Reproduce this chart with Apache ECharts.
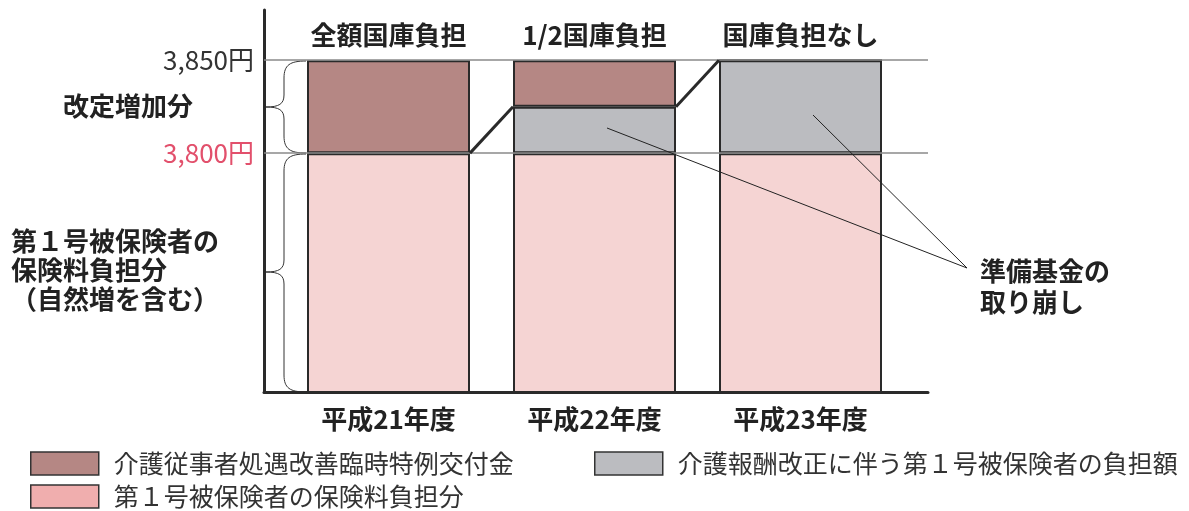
<!DOCTYPE html>
<html>
<head>
<meta charset="utf-8">
<script src="https://cdn.jsdelivr.net/npm/echarts@6/dist/echarts.min.js"></script>
<style>
  html, body { margin: 0; padding: 0; background: #fff; }
  #chart { width: 1189px; height: 511px; }
</style>
</head>
<body>
<div id="chart"></div>
<script>
// 年度と財源区分
const categories = ['平成21年度', '平成22年度', '平成23年度']
const fundingLabels = ['全額国庫負担', '1/2国庫負担', '国庫負担なし']
// 各年度の内訳（円）
const premiumShare = [3800, 3800, 3800]   // 第１号被保険者の保険料負担分
const revisionShare = [0, 25, 50]         // 介護報酬改正に伴う負担額
const grantShare = [50, 25, 0]            // 介護従事者処遇改善臨時特例交付金
const yTickValues = [3800, 3850]

const NAME_GRANT = '介護従事者処遇改善臨時特例交付金'
const NAME_REVISION = '介護報酬改正に伴う第１号被保険者の負担額'
const NAME_PREMIUM = '第１号被保険者の保険料負担分'

const FONT = '"Noto Sans CJK JP", "Noto Sans", sans-serif'
const Y_MIN = 3671.5
const Y_MAX = 3877
const BAR_W = 163
const EDGE = '#2a2a2a'

let myChart = echarts.init(document.getElementById('chart'))

// 年度間をつなぐ斜線（保険料＋改正負担の水準）
let levels = premiumShare.map((v, i) => v + revisionShare[i])
let stepData = []
for (let i = 0; i < levels.length - 1; i++) {
    stepData.push([i, levels[i], levels[i + 1]])
}

function legendBox (left, top, name, color) {
    let item = { name: name, icon: 'rect' }
    if (color) item.itemStyle = { color: color, borderColor: '#333', borderWidth: 1.5 }
    return {
        left: left,
        top: top,
        padding: 0,
        orient: 'horizontal',
        selectedMode: false,
        itemWidth: 68,
        itemHeight: 23,
        itemStyle: { borderColor: '#333', borderWidth: 1.5 },
        textStyle: { fontFamily: FONT, fontSize: 25, color: '#333', padding: [0, 0, 0, 10] },
        data: [item]
    }
}

// 波かっこ（右端x=306、先端x=266）
function brace (yTop, yTip, yBot) {
    let st = { stroke: '#333', lineWidth: 1, fill: 'none' }
    let xr = 306, xm = 284, xt = 266
    let seg = (x1, y1, cx1, cy1, cx2, cy2, x2, y2) => ({
        type: 'bezierCurve', silent: true,
        shape: { x1: x1, y1: y1, cpx1: cx1, cpy1: cy1, cpx2: cx2, cpy2: cy2, x2: x2, y2: y2 },
        style: st
    })
    let ln = (y1, y2) => ({ type: 'line', silent: true, shape: { x1: xm, y1: y1, x2: xm, y2: y2 }, style: st })
    return {
        type: 'group',
        children: [
            seg(xr, yTop, 290, yTop, xm, yTop + 4, xm, yTop + 17),
            ln(yTop + 17, yTip - 12),
            seg(xm, yTip - 12, xm, yTip - 3, 279, yTip, xt, yTip),
            seg(xt, yTip, 279, yTip, xm, yTip + 3, xm, yTip + 12),
            ln(yTip + 12, yBot - 17),
            seg(xm, yBot - 17, xm, yBot - 4, 290, yBot, xr, yBot)
        ]
    }
}

let barStyle = { borderColor: EDGE, borderWidth: 2 }

myChart.setOption({
    animation: false,
    textStyle: { fontFamily: FONT },
    legend: [
        legendBox(30, 451, NAME_GRANT),
        legendBox(594, 451, NAME_REVISION),
        legendBox(30, 484, NAME_PREMIUM, '#f0aeae')
    ],
    grid: [
        // 軸線と目盛線用
        { left: 264, right: 261, top: 10, bottom: 119 },
        // 棒グラフ用
        { left: 285.5, right: 285.5, top: 10, bottom: 119 }
    ],
    xAxis: [
        {
            gridIndex: 0, type: 'value', min: 0, max: 1,
            axisLine: { show: true, lineStyle: { color: '#2a2a2a', width: 3 } },
            axisTick: { show: false }, axisLabel: { show: false }, splitLine: { show: false }
        },
        {
            gridIndex: 1, type: 'category', data: categories, position: 'bottom',
            axisLine: { show: false }, axisTick: { show: false },
            axisLabel: { fontSize: 26, fontWeight: 'bold', color: '#222', margin: 14 }
        },
        {
            gridIndex: 1, type: 'category', data: fundingLabels, position: 'top', offset: -40,
            axisLine: { show: false }, axisTick: { show: false },
            axisLabel: { fontSize: 26, fontWeight: 'bold', color: '#222', margin: 2 }
        }
    ],
    yAxis: [
        {
            gridIndex: 0, type: 'value', min: Y_MIN, max: Y_MAX,
            axisLine: { show: true, lineStyle: { color: '#2a2a2a', width: 3 } },
            axisTick: { show: false },
            splitLine: { show: false },
            axisLabel: {
                customValues: yTickValues,
                fontSize: 26,
                margin: 10,
                color: function (value) {
                    return Number(value) === 3800 ? '#e2506c' : '#333'
                },
                formatter: function (value) {
                    return Number(value).toLocaleString('en-US') + '円'
                }
            }
        },
        { gridIndex: 1, type: 'value', min: Y_MIN, max: Y_MAX, show: false }
    ],
    series: [
        {
            // 3,800円・3,850円の水平線
            type: 'line', xAxisIndex: 0, yAxisIndex: 0, data: [], z: 1, silent: true,
            markLine: {
                symbol: 'none', silent: true, label: { show: false },
                lineStyle: { color: '#8a8a8a', width: 1.5, type: 'solid' },
                data: yTickValues.map(v => ({ yAxis: v }))
            }
        },
        {
            name: NAME_PREMIUM, type: 'bar', stack: 'total', xAxisIndex: 1, yAxisIndex: 1,
            barWidth: BAR_W, clip: true,
            itemStyle: Object.assign({ color: '#f5d4d3' }, barStyle),
            data: premiumShare
        },
        {
            name: NAME_REVISION, type: 'bar', stack: 'total', xAxisIndex: 1, yAxisIndex: 1,
            barWidth: BAR_W,
            itemStyle: Object.assign({ color: '#bbbcc0' }, barStyle),
            data: revisionShare
        },
        {
            name: NAME_GRANT, type: 'bar', stack: 'total', xAxisIndex: 1, yAxisIndex: 1,
            barWidth: BAR_W,
            itemStyle: Object.assign({ color: '#b58784' }, barStyle),
            data: grantShare
        },
        {
            type: 'custom', xAxisIndex: 1, yAxisIndex: 1, silent: true, z: 5,
            data: stepData,
            renderItem: function (params, api) {
                let p1 = api.coord([api.value(0), api.value(1)])
                let p2 = api.coord([api.value(0) + 1, api.value(2)])
                return {
                    type: 'line',
                    shape: { x1: p1[0] + BAR_W / 2, y1: p1[1], x2: p2[0] - BAR_W / 2, y2: p2[1] },
                    style: { stroke: EDGE, lineWidth: 3 }
                }
            }
        }
    ],
    graphic: [
        brace(61, 107, 153),
        brace(154, 272, 392),
        {
            type: 'text', silent: true, left: 63, top: 93,
            style: { text: '改定増加分', font: 'bold 26px ' + FONT, fill: '#222' }
        },
        {
            type: 'text', silent: true, left: 11, top: 227,
            style: { text: '第１号被保険者の\n保険料負担分\n（自然増を含む）', font: 'bold 26px ' + FONT, fill: '#222', lineHeight: 29 }
        },
        // 引出線
        {
            type: 'line', silent: true, z: 10,
            shape: { x1: 607, y1: 128, x2: 967, y2: 268 },
            style: { stroke: '#222', lineWidth: 1 }
        },
        {
            type: 'line', silent: true, z: 10,
            shape: { x1: 813, y1: 115, x2: 967, y2: 268 },
            style: { stroke: '#222', lineWidth: 1 }
        },
        {
            type: 'text', silent: true, left: 980, top: 256,
            style: { text: '準備基金の\n取り崩し', font: 'bold 26px ' + FONT, fill: '#222', lineHeight: 31 }
        }
    ]
})

window.addEventListener('resize', function () {
    myChart.resize()
})
</script>
</body>
</html>
